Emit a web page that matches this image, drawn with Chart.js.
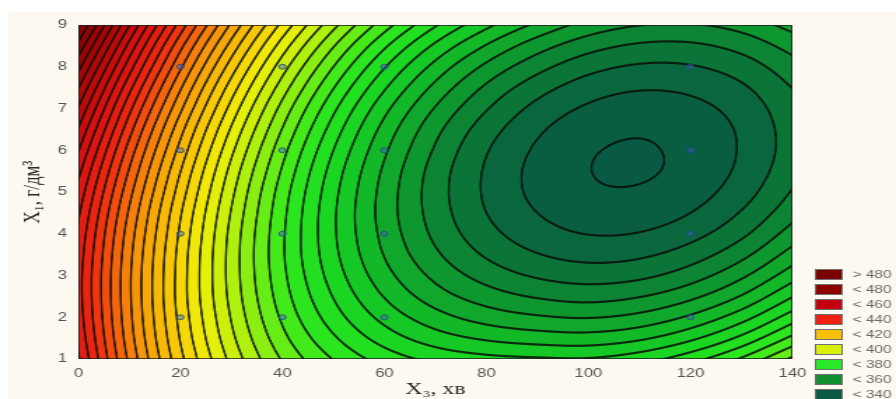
<!DOCTYPE html>
<html>
<head>
<meta charset="utf-8">
<title>contour</title>
<script src="https://cdn.jsdelivr.net/npm/chart.js@4.4.1/dist/chart.umd.min.js"></script>
<style>
    html, body { margin:0; padding:0; background:#fff; overflow:hidden; }
    /* the source picture is stretched sideways, so the canvas is too */
    #wrap { width:640px; height:399px; transform:scaleX(1.4); transform-origin:0 0; }
</style>
</head>
<body>
<div id="wrap"><canvas id="contourChart" width="640" height="399"></canvas></div>
<script>
// response surface: x = X3 (хв), y = X1 (г/дм3)
const xNodes = [0, 10, 20, 30, 40, 50, 60, 70, 80, 90, 100, 110, 120, 130, 140];
const yNodes = [1, 1.5, 2, 2.5, 3, 3.5, 4, 4.5, 5, 5.5, 6, 6.5, 7, 7.5, 8, 8.5, 9];
// one row per yNodes entry, one column per xNodes entry
const zRows = [
    [452.5, 431.1, 413.1, 398.8, 387.6, 379.8, 374.3, 370.9, 369.2, 368.5, 368.3, 370.3, 374.4, 380.5, 388.8],
    [451.0, 429.8, 411.7, 397.0, 385.2, 376.6, 370.2, 365.9, 363.4, 362.1, 361.7, 363.3, 367.1, 373.0, 381.0],
    [450.0, 429.0, 410.8, 395.7, 383.3, 373.9, 366.7, 361.6, 358.3, 356.5, 355.8, 357.2, 360.7, 366.3, 374.0],
    [449.5, 428.6, 410.2, 394.8, 381.9, 371.8, 363.8, 357.9, 354.0, 351.6, 350.6, 351.8, 355.0, 360.3, 367.8],
    [449.5, 428.6, 410.2, 394.4, 381.0, 370.2, 361.5, 355.0, 350.4, 347.5, 346.3, 347.1, 350.1, 355.2, 362.3],
    [450.1, 429.1, 410.5, 394.4, 380.5, 369.1, 359.8, 352.7, 347.5, 344.2, 342.7, 343.3, 346.0, 350.8, 357.7],
    [451.1, 430.0, 411.3, 394.8, 380.6, 368.6, 358.8, 351.1, 345.4, 341.7, 339.9, 340.2, 342.6, 347.1, 353.8],
    [452.6, 431.4, 412.4, 395.7, 381.1, 368.6, 358.3, 350.2, 344.0, 340.0, 337.9, 337.9, 340.0, 344.3, 350.6],
    [454.6, 433.3, 414.1, 397.0, 382.0, 369.2, 358.5, 349.9, 343.4, 339.0, 336.6, 336.4, 338.2, 342.2, 348.3],
    [457.1, 435.6, 416.1, 398.7, 383.5, 370.3, 359.3, 350.3, 343.5, 338.8, 336.1, 335.6, 337.2, 340.9, 346.7],
    [460.2, 438.3, 418.6, 400.9, 385.4, 372.0, 360.7, 351.5, 344.3, 339.4, 336.4, 335.7, 337.0, 340.4, 345.9],
    [463.7, 441.5, 421.4, 403.5, 387.8, 374.2, 362.6, 353.2, 345.9, 340.7, 337.5, 336.4, 337.5, 340.6, 345.9],
    [467.7, 445.1, 424.8, 406.6, 390.6, 376.9, 365.2, 355.7, 348.3, 342.8, 339.4, 338.0, 338.8, 341.6, 346.6],
    [472.2, 449.2, 428.5, 410.1, 394.0, 380.2, 368.5, 358.9, 351.3, 345.7, 342.0, 340.4, 340.9, 343.4, 348.1],
    [477.2, 453.8, 432.7, 414.1, 397.8, 384.0, 372.3, 362.7, 355.1, 349.4, 345.4, 343.5, 343.7, 346.0, 350.4],
    [482.8, 458.7, 437.2, 418.5, 402.1, 388.3, 376.7, 367.2, 359.7, 353.8, 349.6, 347.4, 347.3, 349.4, 353.5],
    [488.8, 464.2, 442.3, 423.3, 406.9, 393.2, 381.8, 372.4, 365.0, 359.1, 354.5, 352.1, 351.7, 353.5, 357.4]
];
const levels = [336, 340, 344, 348, 352, 356, 360, 364, 368, 372, 376, 380, 384, 388, 392, 396, 400,
    404, 408, 412, 416, 420, 424, 428, 432, 436, 440, 444, 448, 452, 456, 460, 464, 468, 472, 476, 480, 484, 488];

// experiment points
const designX = [20, 20, 20, 20, 40, 40, 40, 40, 60, 60, 60, 60, 120, 120, 120, 120];
const designY = [2, 4, 6, 8, 2, 4, 6, 8, 2, 4, 6, 8, 2, 4, 6, 8];

const legendLabels = ['> 480', '< 480', '< 460', '< 440', '< 420', '< 400', '< 380', '< 360', '< 340'];

const STRETCH = 1.4;

// colour ramp used for the bands
const ramp = [
    [335,'#085a44'],[340,'#0a6040'],[345,'#0b7038'],[350,'#0c8434'],[355,'#0e9a2e'],[360,'#11b02a'],
    [366,'#16c826'],[372,'#1ddc22'],[380,'#30e81c'],[388,'#78ee14'],[396,'#c0f00c'],[404,'#f0f008'],
    [412,'#f8d008'],[420,'#f8b008'],[428,'#f88c0c'],[436,'#f4580e'],[444,'#ee2810'],[456,'#dc1010'],
    [468,'#b80808'],[480,'#960202'],[492,'#800000'],[505,'#6a0000']
];

function hexRgb(h){
    return [parseInt(h.slice(1,3),16), parseInt(h.slice(3,5),16), parseInt(h.slice(5,7),16)];
}
function rampColor(v){
    if(v <= ramp[0][0]) return hexRgb(ramp[0][1]);
    for(let k=1;k<ramp.length;k++){
        if(v <= ramp[k][0]){
            const t = (v-ramp[k-1][0])/(ramp[k][0]-ramp[k-1][0]);
            const a = hexRgb(ramp[k-1][1]), b = hexRgb(ramp[k][1]);
            return a.map((c,i)=>c+(b[i]-c)*t);
        }
    }
    return hexRgb(ramp[ramp.length-1][1]);
}
const bandColors = [];
for(let b=0;b<=levels.length;b++){
    let mid;
    if(b===0) mid = levels[0]-2;
    else if(b===levels.length) mid = levels[levels.length-1]+2;
    else mid = (levels[b-1]+levels[b])/2;
    bandColors.push(rampColor(mid));
}

// smooth (catmull-rom) weights for a value between grid nodes
function nodeWeights(nodes, v){
    let i = 0;
    while(i < nodes.length-2 && v > nodes[i+1]) i++;
    let t = (v-nodes[i])/(nodes[i+1]-nodes[i]);
    t = Math.min(1, Math.max(0, t));
    const t2 = t*t, t3 = t2*t;
    return { i: i, w: [
        0.5*(-t+2*t2-t3),
        0.5*(2-5*t2+3*t3),
        0.5*(t+4*t2-3*t3),
        0.5*(-t2+t3)
    ]};
}
// node value with one ghost node on each side (straight continuation)
function nodeAt(j, i){
    const ny = zRows.length, nx = zRows[0].length;
    if(j < 0) return 2*nodeAt(0,i)-nodeAt(1,i);
    if(j >= ny) return 2*nodeAt(ny-1,i)-nodeAt(ny-2,i);
    if(i < 0) return 2*zRows[j][0]-zRows[j][1];
    if(i >= nx) return 2*zRows[j][nx-1]-zRows[j][nx-2];
    return zRows[j][i];
}

// page background: white strip on top, cream panel
const backdrop = {
    id: 'backdrop',
    beforeDraw(chart){
        const ctx = chart.ctx;
        ctx.save();
        ctx.fillStyle = '#ffffff';
        ctx.fillRect(0, 0, chart.width, chart.height);
        ctx.fillStyle = '#fdf9f0';
        ctx.fillRect(6, 12, chart.width, chart.height);
        ctx.restore();
    }
};

// filled contour bands + contour lines, drawn from the node grid through the scales
const contourMap = {
    id: 'contourMap',
    beforeDatasetsDraw(chart){
        const {ctx, chartArea, scales} = chart;
        const left = Math.round(chartArea.left), top = Math.round(chartArea.top);
        const w = Math.round(chartArea.right) - left, h = Math.round(chartArea.bottom) - top;
        const cols = [], rows = [];
        for(let i=0;i<w;i++) cols.push(nodeWeights(xNodes, scales.x.getValueForPixel(left+i+0.5)));
        for(let j=0;j<h;j++) rows.push(nodeWeights(yNodes, scales.y.getValueForPixel(top+j+0.5)));

        // values along x for every grid row (ghost rows included)
        const ny = zRows.length;
        const rowVals = [];
        for(let r=-1;r<=ny;r++){
            const line = new Float32Array(w);
            for(let i=0;i<w;i++){
                const c = cols[i];
                let s = 0;
                for(let k=0;k<4;k++) s += c.w[k]*nodeAt(r, c.i-1+k);
                line[i] = s;
            }
            rowVals.push(line);
        }
        const z = new Float32Array(w*h);
        for(let j=0;j<h;j++){
            const rw = rows[j];
            for(let i=0;i<w;i++){
                let s = 0;
                for(let k=0;k<4;k++) s += rw.w[k]*rowVals[rw.i+k][i];
                z[j*w+i] = s;
            }
        }

        const img = ctx.createImageData(w, h);
        const d = img.data;
        for(let j=0;j<h;j++){
            const ju = Math.max(0,j-1), jd = Math.min(h-1,j+1);
            for(let i=0;i<w;i++){
                const p = j*w+i;
                const v = z[p];
                let b = 0;
                while(b < levels.length && v >= levels[b]) b++;
                const c = bandColors[b];
                // distance to the nearest level in screen pixels
                const il = Math.max(0,i-1), ir = Math.min(w-1,i+1);
                const gx = (z[j*w+ir]-z[j*w+il])/((ir-il)*STRETCH);
                const gy = (z[jd*w+i]-z[ju*w+i])/(jd-ju);
                const g = Math.hypot(gx, gy) || 1e-6;
                let dl = Infinity;
                if(b > 0) dl = v-levels[b-1];
                if(b < levels.length) dl = Math.min(dl, levels[b]-v);
                const a = Math.max(0, Math.min(1, 1.6-dl/g))*0.85;
                d[p*4] = c[0]*(1-a)+8*a;
                d[p*4+1] = c[1]*(1-a)+16*a;
                d[p*4+2] = c[2]*(1-a)+8*a;
                d[p*4+3] = 255;
            }
        }
        const off = document.createElement('canvas');
        off.width = w; off.height = h;
        off.getContext('2d').putImageData(img, 0, 0);
        ctx.save();
        ctx.drawImage(off, left, top);
        ctx.strokeStyle = 'rgba(30,30,30,0.8)';
        ctx.lineWidth = 1;
        ctx.strokeRect(left+0.5, top+0.5, w-1, h-1);
        ctx.restore();
    }
};

// class legend in the lower right corner
const classLegend = {
    id: 'classLegend',
    afterDraw(chart, args, opts){
        const ctx = chart.ctx;
        ctx.save();
        ctx.font = '11px "Liberation Sans", Arial, sans-serif';
        ctx.textBaseline = 'middle';
        legendLabels.forEach((label, k) => {
            const y0 = opts.top + k*opts.step;
            ctx.fillStyle = opts.colors[k];
            ctx.fillRect(opts.left, y0, opts.boxW, opts.boxH);
            ctx.strokeStyle = '#707070';
            ctx.lineWidth = 1;
            ctx.strokeRect(opts.left+0.5, y0+0.5, opts.boxW-1, opts.boxH-1);
            ctx.fillStyle = '#6a6a6a';
            ctx.fillText(label, opts.textX, y0+opts.boxH/2+0.5);
        });
        ctx.restore();
    }
};

Chart.defaults.font.family = '"Liberation Sans", Arial, sans-serif';

const ctx = document.getElementById('contourChart').getContext('2d');
new Chart(ctx, {
    type: 'scatter',
    data: {
        datasets: [{
            label: 'points',
            data: designX.map((x,i)=>({x:x, y:designY[i]})),
            pointRadius: 2.5,
            pointBorderWidth: 1,
            borderColor: 'rgba(45,70,140,0.85)',
            backgroundColor: 'rgba(60,100,175,0.45)'
        }]
    },
    options: {
        responsive: false,
        animation: false,
        devicePixelRatio: 1,
        layout: { padding: { top: 25, right: 74, left: 0, bottom: 0 } },
        scales: {
            x: {
                type: 'linear', min: 0, max: 140,
                grid: { display: false, drawTicks: false },
                border: { display: false },
                ticks: { stepSize: 20, padding: 7, color: '#555', font: { size: 12 }, maxRotation: 0 },
                title: {
                    display: true, text: 'X₃, хв', color: '#2a2a2a',
                    font: { family: '"Liberation Serif", "Times New Roman", serif', size: 17, lineHeight: 1.06 },
                    padding: { top: 0, bottom: 0 }
                },
                afterFit: (scale) => { scale.height = 40; }
            },
            y: {
                type: 'linear', min: 1, max: 9,
                grid: { display: false, drawTicks: false },
                border: { display: false },
                ticks: { stepSize: 1, padding: 8, color: '#555', font: { size: 12 } },
                title: {
                    display: true, text: 'X₁, г/дм³', color: '#2a2a2a',
                    font: { family: '"Liberation Serif", "Times New Roman", serif', size: 17, lineHeight: 1.2 },
                    padding: { top: 13, bottom: 0 }
                },
                afterFit: (scale) => { scale.width = 56; }
            }
        },
        plugins: {
            legend: { display: false },
            tooltip: { enabled: false },
            classLegend: {
                left: 582, top: 269, step: 15, boxW: 20, boxH: 11, textX: 609,
                colors: ['#7a0000','#8e0000','#c4000e','#f02010','#f8c008','#d8f008','#28e828','#109030','#0a5a46']
            }
        }
    },
    plugins: [backdrop, contourMap, classLegend]
});
</script>
</body>
</html>
